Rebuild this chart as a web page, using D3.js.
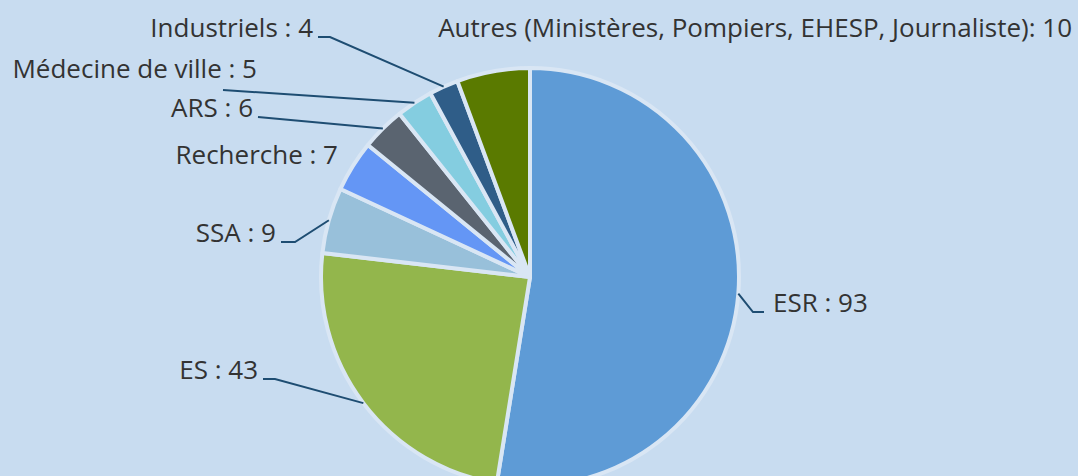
<!DOCTYPE html>
<html>
<head>
<meta charset="utf-8">
<script src="https://cdn.jsdelivr.net/npm/d3@7"></script>
<style>
  html, body { margin: 0; padding: 0; background: #c8dcf0; }
  svg { display: block; }
  text { font-family: "Open Sans", sans-serif; fill: #333; }
</style>
</head>
<body>
<svg id="chart" width="1078" height="476"></svg>
<script>
// ---- data ----
const categories = ["ESR", "ES", "SSA", "Recherche", "ARS", "Médecine de ville", "Industriels",
                    "Autres (Ministères, Pompiers, EHESP, Journaliste)"];
const values = [93, 43, 9, 7, 6, 5, 4, 10];
const colors = ["#5e9bd6", "#93b64c", "#98c0da", "#6496f5", "#5a6470", "#84cde0", "#2f5d88", "#5a7a00"];

// ---- layout (label anchors, not data) ----
const labelLayout = {
  "ESR":              { x: 773, y: 312, anchor: "start", elbow: [753, 312], tail: [764, 312] },
  "ES":               { x: 258, y: 379, anchor: "end", elbow: [275, 379], tail: [263, 379] },
  "SSA":              { x: 276, y: 242, anchor: "end", elbow: [295, 242], tail: [281, 242] },
  "Recherche":        { x: 338, y: 164, anchor: "end" },
  "ARS":              { x: 253, y: 117, anchor: "end", elbow: [258, 117], tail: [258, 117] },
  "Médecine de ville":{ x: 257, y: 78, anchor: "end", elbow: [223, 90], tail: [223, 90] },
  "Industriels":      { x: 313, y: 37, anchor: "end", elbow: [330, 37], tail: [318, 37] },
  "Autres (Ministères, Pompiers, EHESP, Journaliste)": { x: 1072, y: 37, anchor: "end" }
};

const W = 1078, H = 476;
const cx = 530, cy = 277, R = 209;

const svg = d3.select("#chart");
const data = categories.map((c, i) => ({ cat: c, value: values[i], color: colors[i] }));

const pie = d3.pie().value(d => d.value).sort(null);
const arcs = pie(data);
const arc = d3.arc().innerRadius(0).outerRadius(R);
const edgeArc = d3.arc().innerRadius(R).outerRadius(R);

const g = svg.append("g").attr("transform", `translate(${cx},${cy})`);

g.selectAll("path.slice")
  .data(arcs)
  .join("path")
  .attr("class", "slice")
  .attr("d", arc)
  .attr("fill", d => d.data.color)
  .attr("stroke", "#d9e6f4")
  .attr("stroke-width", 4)
  .attr("stroke-linejoin", "round");

// leader lines
const lead = svg.append("g");
arcs.forEach(a => {
  const L = labelLayout[a.data.cat];
  if (!L.elbow) return;
  const c = edgeArc.centroid(a);
  const p = [cx + c[0], cy + c[1]];
  lead.append("path")
    .attr("d", d3.line()([p, L.elbow, L.tail]))
    .attr("fill", "none")
    .attr("stroke", "#1e4d72")
    .attr("stroke-width", 2);
});

// labels
svg.append("g").selectAll("text")
  .data(arcs)
  .join("text")
  .attr("x", d => labelLayout[d.data.cat].x)
  .attr("y", d => labelLayout[d.data.cat].y)
  .attr("text-anchor", d => labelLayout[d.data.cat].anchor)
  .attr("font-size", 26)
  .text(d => d.data.cat.endsWith(")") ? `${d.data.cat}: ${d.data.value}` : `${d.data.cat} : ${d.data.value}`);
</script>
</body>
</html>
